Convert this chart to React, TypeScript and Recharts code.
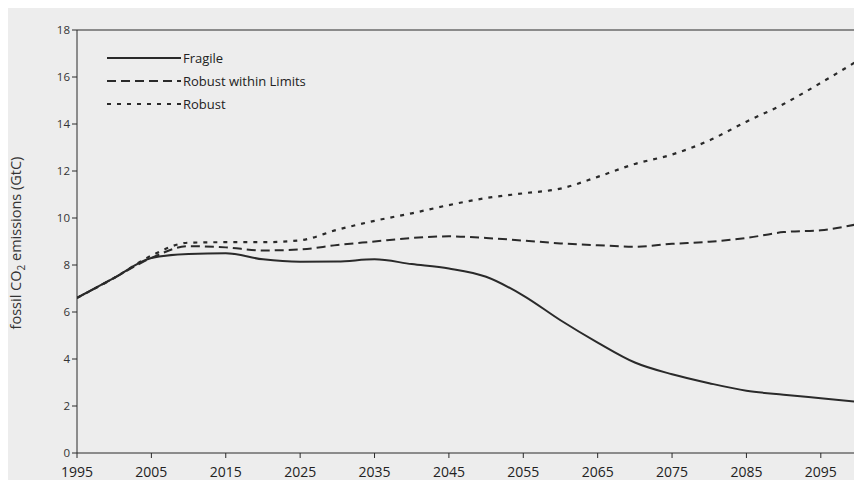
import React from "react";
import { LineChart, Line, XAxis, YAxis, Legend, ReferenceLine } from "recharts";

const years = [1995, 2000, 2005, 2010, 2015, 2020, 2025, 2030, 2035, 2040, 2045, 2050, 2055, 2060, 2065, 2070, 2075, 2080, 2085, 2090, 2095, 2100];
const fragile = [6.6, 7.45, 8.3, 8.47, 8.5, 8.24, 8.14, 8.15, 8.24, 8.04, 7.85, 7.5, 6.7, 5.65, 4.7, 3.85, 3.35, 2.97, 2.65, 2.48, 2.33, 2.18];
const robustWithinLimits = [6.6, 7.45, 8.3, 8.8, 8.75, 8.62, 8.66, 8.85, 9.0, 9.15, 9.22, 9.15, 9.04, 8.92, 8.84, 8.78, 8.9, 8.99, 9.15, 9.4, 9.48, 9.74];
const robust = [6.6, 7.45, 8.4, 8.95, 8.97, 8.97, 9.05, 9.5, 9.88, 10.2, 10.55, 10.85, 11.05, 11.25, 11.75, 12.3, 12.7, 13.3, 14.1, 14.85, 15.75, 16.7];
const xTicks = [1995, 2005, 2015, 2025, 2035, 2045, 2055, 2065, 2075, 2085, 2095];
const yTicks = [0, 2, 4, 6, 8, 10, 12, 14, 16, 18];

const seriesNames = ["Fragile", "Robust within Limits", "Robust"];

const data = years.map((y, i) => ({
  year: y,
  fragile: fragile[i],
  rwl: robustWithinLimits[i],
  robust: robust[i],
}));

const INK = "#2a2a2a";
const FONT = "'Open Sans', sans-serif";

const LegendContent = () => {
  const styles = [
    { dash: undefined, w: 2 },
    { dash: "9 5", w: 2 },
    { dash: "4 6", w: 2.2 },
  ];
  return (
    <div style={{ fontFamily: FONT, fontSize: 13, color: "#222" }}>
      {seriesNames.map((n, i) => (
        <div key={n} style={{ display: "flex", alignItems: "center", height: 23 }}>
          <svg width={74} height={10}>
            <line x1={0} y1={5} x2={74} y2={5} stroke={INK} strokeWidth={styles[i].w} strokeDasharray={styles[i].dash} />
          </svg>
          <span style={{ marginLeft: 2 }}>{n}</span>
        </div>
      ))}
    </div>
  );
};

const YLabel = () => (
  <text
    x={21}
    y={243}
    transform="rotate(-90, 21, 243)"
    textAnchor="middle"
    fontFamily={FONT}
    fontSize={14.5}
    fill="#333"
  >
    fossil CO<tspan dy={4} fontSize={10}>2</tspan><tspan dy={-4}> emissions (GtC)</tspan>
  </text>
);

export default function App() {
  return (
    <div style={{ margin: -8, width: 862, height: 488, background: "#ededed", position: "relative" }}>
      <LineChart width={862} height={488} data={data} margin={{ top: 30, right: 4, bottom: 0, left: 20 }}>
        <XAxis
          dataKey="year"
          type="number"
          domain={[1995, 2100]}
          ticks={xTicks}
          allowDataOverflow
          stroke={INK}
          tickSize={5}
          height={35}
          tick={{ fill: "#222", fontFamily: FONT, fontSize: 14 }}
          tickMargin={9}
        />
        <YAxis
          domain={[0, 18]}
          ticks={yTicks}
          width={57}
          stroke={INK}
          tickSize={5}
          tick={{ fill: "#333", fontFamily: FONT, fontSize: 11.5 }}
          label={<YLabel />}
        />
        <ReferenceLine y={18} stroke={INK} strokeWidth={1.2} />
        <ReferenceLine x={2100} stroke={INK} strokeWidth={1.2} />
        <Legend
          verticalAlign="middle"
          align="center"
          layout="horizontal"
          content={<LegendContent />}
          wrapperStyle={{ position: "absolute", left: 107, top: 46, width: 260 }}
        />
        <Line dataKey="fragile" name="Fragile" type="monotone" stroke={INK} strokeWidth={2} dot={false} isAnimationActive={false} />
        <Line dataKey="rwl" name="Robust within Limits" type="monotone" stroke={INK} strokeWidth={2} strokeDasharray="9 5" dot={false} isAnimationActive={false} />
        <Line dataKey="robust" name="Robust" type="monotone" stroke={INK} strokeWidth={2.2} strokeDasharray="4 6" dot={false} isAnimationActive={false} />
      </LineChart>
    </div>
  );
}
